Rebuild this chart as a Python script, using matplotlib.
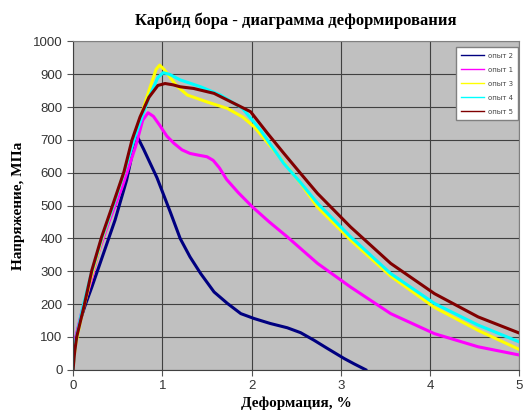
import matplotlib
matplotlib.use("Agg")
import matplotlib.pyplot as plt

# Data (deformation %, stress MPa)
x_op2 = [0, 0.01, 0.03, 0.08, 0.14, 0.21, 0.34, 0.47, 0.60, 0.68, 0.72, 0.79, 0.94, 1.09,
         1.20, 1.31, 1.43, 1.58, 1.73, 1.88, 2.03, 2.21, 2.40, 2.55, 2.70, 2.85, 3.04,
         3.15, 3.28]
y_op2 = [0, 50, 95, 151, 200, 252, 354, 456, 578, 680, 710, 672, 585, 480,
         400, 344, 293, 237, 202, 171, 156, 141, 128, 113, 90, 65, 34,
         18, 0]

x_op1 = [0, 0.01, 0.03, 0.10, 0.20, 0.28, 0.40, 0.55, 0.70, 0.78, 0.84, 0.90, 0.97, 1.05,
         1.13, 1.22, 1.31, 1.40, 1.50, 1.57, 1.64, 1.72, 1.85, 2.01, 2.20, 2.40, 2.74,
         3.11, 3.56, 4.05, 4.54, 5.0]
y_op1 = [0, 55, 100, 180, 270, 354, 450, 557, 680, 760, 783, 772, 745, 712,
         690, 670, 659, 654, 649, 638, 615, 580, 540, 496, 450, 405, 324,
         252, 171, 110, 70, 45]

x_op3 = [0, 0.01, 0.03, 0.10, 0.20, 0.32, 0.45, 0.57, 0.70, 0.85, 0.93, 0.97, 1.02, 1.08,
         1.16, 1.28, 1.50, 1.73, 1.90, 2.03, 2.25, 2.55, 2.74, 3.11, 3.56, 4.05, 4.54,
         5.0]
y_op3 = [0, 40, 80, 170, 280, 395, 500, 600, 720, 850, 915, 928, 915, 893,
         865, 837, 816, 796, 770, 740, 669, 568, 495, 395, 285, 190, 120,
         62]

x_op4 = [0, 0.01, 0.03, 0.10, 0.20, 0.32, 0.45, 0.57, 0.70, 0.85, 0.95, 1.01, 1.08, 1.20,
         1.43, 1.65, 1.90, 2.10, 2.36, 2.55, 2.74, 3.11, 3.56, 4.05, 4.54, 5.0]
y_op4 = [0, 45, 90, 180, 290, 400, 500, 600, 715, 830, 890, 905, 900, 883,
         862, 837, 796, 730, 629, 570, 507, 405, 293, 202, 136, 85]

x_op5 = [0, 0.01, 0.02, 0.04, 0.12, 0.21, 0.32, 0.45, 0.57, 0.66, 0.75, 0.85, 0.95, 1.03,
         1.12, 1.20, 1.35, 1.58, 1.80, 1.99, 2.18, 2.36, 2.55, 2.74, 3.11, 3.56, 4.05,
         4.54, 5.0]
y_op5 = [0, 35, 60, 100, 191, 303, 405, 507, 603, 700, 770, 830, 866, 872,
         868, 862, 857, 842, 812, 786, 720, 660, 598, 537, 435, 324, 232,
         161, 112]

fig = plt.figure(figsize=(5.26, 4.15), dpi=100)
ax = fig.add_axes([0.139, 0.109, 0.848, 0.791])
ax.set_facecolor("#c0c0c0")

ax.plot(x_op2, y_op2, color="#000080", lw=2.2, label="опыт 2")
ax.plot(x_op1, y_op1, color="#ff00ff", lw=2.2, label="опыт 1")
ax.plot(x_op3, y_op3, color="#ffff00", lw=2.2, label="опыт 3")
ax.plot(x_op4, y_op4, color="#00ffff", lw=2.2, label="опыт 4")
ax.plot(x_op5, y_op5, color="#800000", lw=2.2, label="опыт 5")

ax.set_xlim(0, 5)
ax.set_ylim(0, 1000)
ax.set_xticks(range(0, 6))
ax.set_yticks(range(0, 1001, 100))
ax.grid(True, color="#404040", lw=0.8)
ax.set_axisbelow(True)
ax.tick_params(labelsize=9.5, labelcolor="#333333", color="#555555", length=4)
for lab in ax.get_xticklabels() + ax.get_yticklabels():
    lab.set_family("Liberation Sans")
for s in ax.spines.values():
    s.set_color("#808080")
ax.spines["left"].set_color("#404040")
ax.spines["bottom"].set_color("#404040")

serif = {"family": "Liberation Serif", "weight": "bold", "size": 11}
ax.set_title("Карбид бора - диаграмма деформирования",
             fontdict={"family": "Liberation Serif", "weight": "bold", "size": 12}, pad=12)
ax.set_xlabel("Деформация, %", fontdict=serif, labelpad=3)
ax.set_ylabel("Напряжение, МПа", fontdict=serif, labelpad=6)

lgnd = ax.legend(loc="upper right", bbox_to_anchor=(0.998, 0.983), fontsize=5,
                 frameon=True, fancybox=False, edgecolor="#808080", framealpha=1,
                 handlelength=3.3, handletextpad=0.5, borderaxespad=0,
                 labelspacing=1.15, borderpad=0.8)
for line in lgnd.get_lines():
    line.set_linewidth(1)
for t in lgnd.get_texts():
    t.set_color("#444444")

plt.savefig("out.png", dpi=100)
